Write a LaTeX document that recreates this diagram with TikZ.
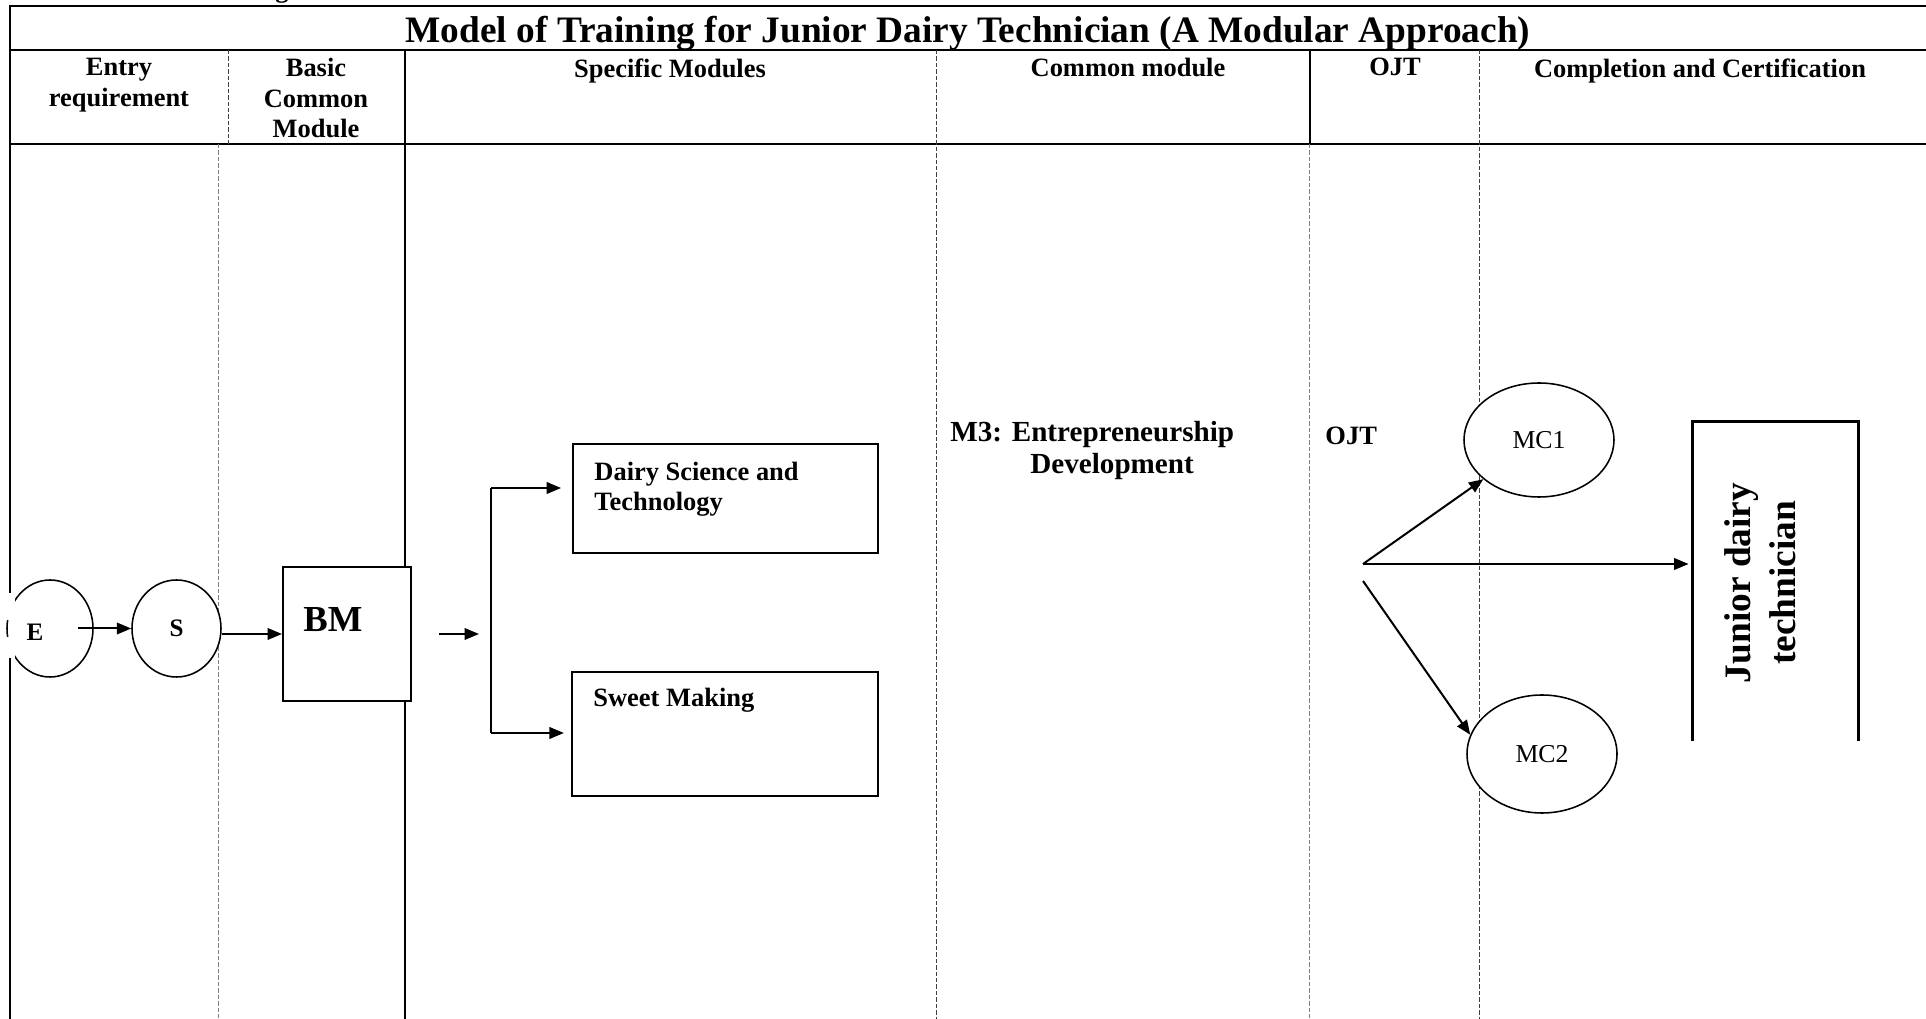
\documentclass[tikz,border=0pt]{standalone}
\usepackage{fontspec}
\setmainfont{Liberation Serif}
\usetikzlibrary{arrows.meta, positioning, calc, shapes.geometric}

\newlength{\unitpx}
\setlength{\unitpx}{0.45pt}
\newcommand{\ttlfont}{\fontsize{16.8}{20.2}\selectfont\bfseries}
\newcommand{\hdrfont}{\fontsize{11.9}{13.7}\selectfont\bfseries}
\newcommand{\boxfont}{\fontsize{11.9}{13.5}\selectfont\bfseries}
\newcommand{\mthreefont}{\fontsize{13.1}{14.4}\selectfont\bfseries}
\newcommand{\bmfont}{\fontsize{16.5}{19}\selectfont\bfseries}
\newcommand{\esfont}{\fontsize{11.3}{13}\selectfont\bfseries}
\newcommand{\mcfont}{\fontsize{11.6}{13}\selectfont}

\begin{document}
\begin{tikzpicture}[
    x=0.45pt, y=-0.45pt,
    >={Triangle[length=6.5pt, width=5.2pt]},
    frame/.style={line width=1.1pt},
    sep/.style={line width=1pt},
    dsep/.style={line width=0.4pt, black!75, dash pattern=on 2pt off 0.9pt},
    lsep/.style={line width=0.4pt, black!50, dash pattern=on 2pt off 0.9pt},
    modbox/.style={rectangle, draw, line width=0.9pt, fill=white, inner sep=0pt},
    circ/.style={ellipse, draw, line width=0.7pt, fill=white, inner sep=0pt},
    arr/.style={->, line width=0.9pt},
    hdr/.style={font=\hdrfont, align=center, anchor=north, inner sep=0pt},
    lbl/.style={font=\boxfont, align=left, inner sep=0pt}
  ]
  \useasboundingbox (0,0) rectangle (1926,1019);

  % Tabellenrahmen
  \draw[frame] (1926,6) -- (10,6) -- (10,1019);
  \draw[frame] (10,50) -- (1926,50);
  \draw[frame] (10,144) -- (1926,144);

  % Spalten (Kopf)
  \draw[dsep] (228,50) -- (228,144);
  \draw[sep]  (1310,50) -- (1310,144);
  % Spalten (durchgehend)
  \draw[sep]  (405,50) -- (405,1019);
  \draw[dsep] (936,50) -- (936,1019);
  \draw[dsep] (1479,50) -- (1479,1019);
  % Spalten (Rumpf)
  \draw[lsep] (218,144) -- (218,1019);
  \draw[lsep] (1309,144) -- (1309,1019);

  % abgeschnittener Rest der Zeile darueber
  \node[font=\hdrfont, anchor=base, inner sep=0pt] (gfrag) at (282,-2) {g};

  % Titel und Kopfzeile
  \node[font=\ttlfont, anchor=base, inner sep=0pt] (title) at (968,43)
    {Model of Training for Junior Dairy Technician (A Modular Approach)};
  \node[hdr] (hentry) at (119,58)  {Entry\\requirement};
  \node[hdr] (hbasic) at (316,58)  {Basic\\Common\\Module};
  \node[hdr] (hspec)  at (670,58)  {Specific Modules};
  \node[hdr] (hcomm)  at (1128,58) {Common module};
  \node[hdr] (hojt)   at (1395,58) {OJT};
  \node[hdr] (hcert)  at (1700,58) {Completion and Certification};

  % Eingang
  \node[circ, minimum width=86\unitpx, minimum height=97\unitpx] (E) at (50,628.5) {};
  \node[font=\esfont, inner sep=0pt] (etxt) at ($(E.center)+(-15,4)$) {E};
  \fill[white] (0,593) rectangle (15,620);
  \fill[white] (0,637) rectangle (15,658);
  \node[circ, minimum width=89\unitpx, minimum height=97\unitpx, font=\esfont] (S) at (176.5,628.5) {S};

  % Basismodul
  \node[modbox, minimum width=128\unitpx, minimum height=134\unitpx] (bm) at (347,634) {};
  \node[font=\bmfont, anchor=base, inner sep=0pt] (bmtxt) at (333,632) {BM};

  % Spezifische Module
  \node[modbox, minimum width=305\unitpx, minimum height=109\unitpx] (dst) at (725.5,498.5) {};
  \node[lbl, anchor=north west] (dsttxt) at (594,462) {Dairy Science and\\Technology};
  \node[modbox, minimum width=306\unitpx, minimum height=124\unitpx] (swm) at (725,734) {};
  \node[lbl, anchor=base west] (swmtxt) at (593,707) {Sweet Making};

  % Gemeinsames Modul und OJT
  \node[lbl, font=\mthreefont, anchor=north west] (m3) at (950,421)
    {M3: Entrepreneurship\\\hspace*{36pt}Development};
  \node[lbl, font=\hdrfont, anchor=base west] (ojtlbl) at (1325,445) {OJT};

  % Abschluss
  \node[circ, minimum width=150\unitpx, minimum height=114\unitpx, font=\mcfont] (mc1) at (1539,440) {MC1};
  \node[circ, minimum width=150\unitpx, minimum height=118\unitpx, font=\mcfont] (mc2) at (1542,754) {MC2};
  \node[minimum width=165\unitpx, minimum height=319\unitpx, inner sep=0pt] (jdt) at (1775.5,581.5) {};
  \draw[sep] (jdt.south west) -- (jdt.north west) -- (jdt.north east) -- (jdt.south east);
  \node[font=\ttlfont, rotate=90, align=center, inner sep=0pt] (jdttxt) at (1760,583)
    {Junior dairy\\technician};

  % Pfeile
  \coordinate (brtop) at (491,488);
  \coordinate (brbot) at (491,733);
  \coordinate (fan)   at (1363,564);
  \coordinate (fanb)  at (1363,581);

  \draw[arr] ($(E.center)+(28,0)$) -- (S.west);
  \draw[arr] (S.east |- bm.west) -- (bm.west);
  \draw[arr, shorten <=12.2pt, shorten >=5.4pt] (bm.east) -- (bm.east -| brtop);
  \draw[line width=0.9pt] (brtop) -- (brbot);
  \draw[arr, shorten >=4.9pt] (brtop) -- (brtop -| dst.west);
  \draw[arr, shorten >=3.2pt] (brbot) -- (brbot -| swm.west);

  \draw[arr] (fan) -- (mc1);
  \draw[arr, shorten >=1.8pt] (fan) -- (fan -| jdt.west);
  \draw[arr] (fanb) -- (mc2.165);

\end{tikzpicture}
\end{document}
